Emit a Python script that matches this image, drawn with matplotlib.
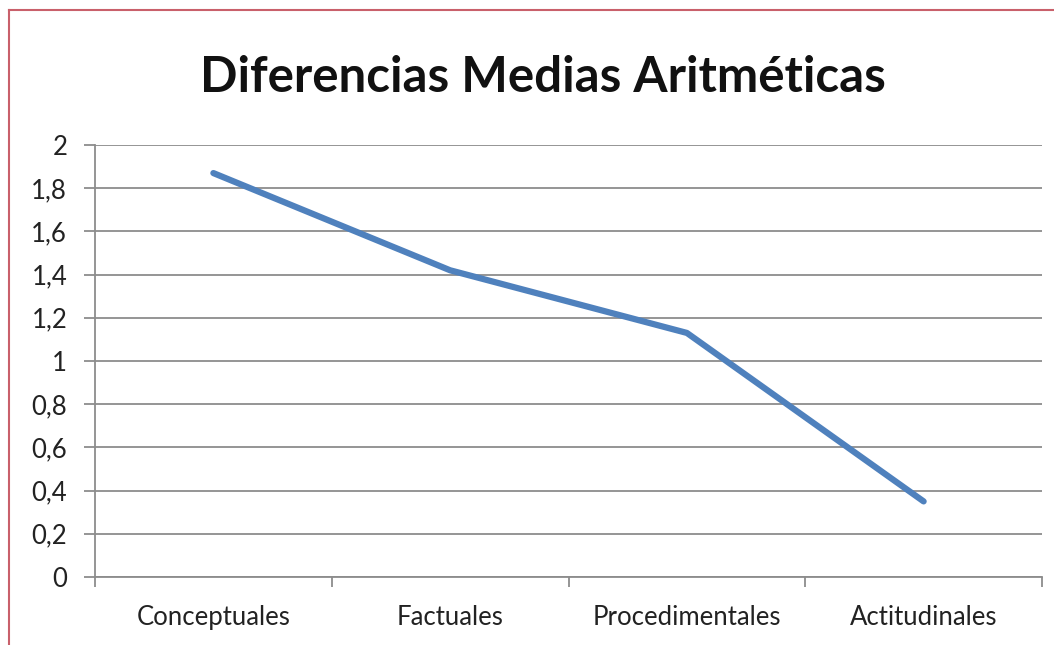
import matplotlib
matplotlib.use("Agg")
import matplotlib.pyplot as plt
from matplotlib.lines import Line2D
from matplotlib.ticker import FixedLocator, FuncFormatter

categories = ["Conceptuales", "Factuales", "Procedimentales", "Actitudinales"]
values = [1.87, 1.42, 1.13, 0.35]
y_ticks = [0, 0.2, 0.4, 0.6, 0.8, 1.0, 1.2, 1.4, 1.6, 1.8, 2.0]

plt.rcParams["font.family"] = ["Lato", "DejaVu Sans"]

fig = plt.figure(figsize=(10.54, 6.45), dpi=100)
ax = fig.add_axes([95 / 1054, 1 - 577 / 645, (1042 - 95) / 1054, (577 - 145) / 645])

x = range(len(categories))
ax.plot(x, values, color="#4F81BD", linewidth=4.5,
        solid_capstyle="round", solid_joinstyle="round", zorder=3)

ax.set_xlim(-0.5, len(categories) - 0.5)
ax.set_ylim(0, 2)

# gridlines at every major y tick, axis line only on the left
ax.yaxis.set_major_locator(FixedLocator(y_ticks))
ax.yaxis.set_major_formatter(FuncFormatter(lambda v, p: f"{v:g}".replace(".", ",")))
ax.grid(axis="y", color="#8c8c8c", linewidth=1.3)
ax.set_axisbelow(True)
for side in ["top", "right"]:
    ax.spines[side].set_visible(False)
ax.spines["left"].set_color("#8c8c8c")
ax.spines["bottom"].set_color("#8c8c8c")
ax.spines["left"].set_linewidth(1.3)
ax.spines["bottom"].set_linewidth(1.3)

ax.set_xticks(x)
ax.set_xticklabels(categories)
ax.tick_params(axis="x", length=0, pad=20, labelsize=18.5, labelcolor="#222222")
ax.tick_params(axis="y", length=8, width=1.3, color="#8c8c8c", pad=12,
               labelsize=18.5, labelcolor="#222222")
# category separator ticks on the x axis
ax.set_xticks([i - 0.5 for i in range(len(categories) + 1)], minor=True)
ax.tick_params(axis="x", which="minor", length=7, width=1.3, color="#8c8c8c")

fig.text(0.515, 1 - 78 / 645, "Diferencias Medias Aritméticas",
         ha="center", va="center", fontsize=35.5, fontweight="bold", color="#111111")

# red frame along the top and left edges
fig.add_artist(Line2D([9 / 1054, 9 / 1054], [0, 1 - 10 / 645],
                      transform=fig.transFigure, color="#C9606B", linewidth=1.5))
fig.add_artist(Line2D([9 / 1054, 1], [1 - 10 / 645, 1 - 10 / 645],
                      transform=fig.transFigure, color="#C9606B", linewidth=1.5))

fig.savefig("out.png", dpi=100)
